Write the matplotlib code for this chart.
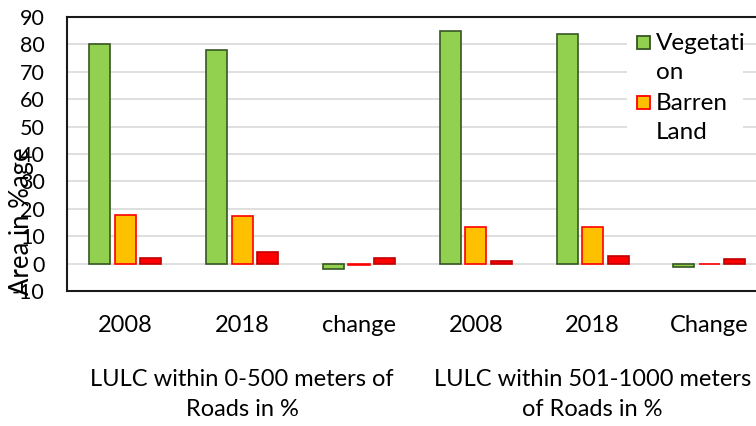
import numpy as np
import matplotlib
matplotlib.use("Agg")
import matplotlib.pyplot as plt
from matplotlib.patches import Rectangle

# data
categories = ["2008", "2018", "change", "2008", "2018", "Change"]
vegetation = [80.1, 78.0, -2.1, 84.9, 83.8, -1.1]
barren = [17.6, 17.2, -0.4, 13.5, 13.2, -0.3]
built_up = [2.2, 4.4, 2.2, 1.1, 2.6, 1.5]
group_labels = ["LULC within 0-500 meters of\nRoads in %",
                "LULC within 501-1000 meters\nof Roads in %"]
legend_labels = ["Vegetati\non", "Barren\nLand"]

plt.rcParams['font.family'] = ['Lato', 'DejaVu Sans']

W, H = 756, 426
fig = plt.figure(figsize=(W / 100, H / 100), dpi=100)

def fx(px):
    return px / W

def fy(py):
    return 1 - py / H

# axes in pixels: left 67, top 17, bottom 291, one category = ~116.8 px
left, top, bottom = 67, 17, 291
width = 116.8 * 6
ax = fig.add_axes([fx(left), fy(bottom), width / W, (bottom - top) / H])

GREEN, GREEN_E = '#92D050', '#375623'
YELLOW, YELLOW_E = '#FFC000', '#FF0000'
RED, RED_E = '#FF0000', '#C00000'

x = np.arange(len(categories))
step = 0.218
bw = 0.18
ax.bar(x - step, vegetation, bw, color=GREEN, edgecolor=GREEN_E, linewidth=1.2, zorder=3)
ax.bar(x, barren, bw, color=YELLOW, edgecolor=YELLOW_E, linewidth=1.2, zorder=3)
ax.bar(x + step, built_up, bw, color=RED, edgecolor=RED_E, linewidth=1.2, zorder=3)

ax.set_xlim(-0.5, 5.5)
ax.set_ylim(-10, 90)
ax.set_yticks(np.arange(-10, 91, 10))
ax.set_yticklabels([f"{v}" for v in range(-10, 91, 10)], fontsize=15.5)
ax.set_xticks(x)
ax.set_xticklabels(categories, fontsize=17)
ax.tick_params(length=0)
ax.tick_params(axis='y', pad=16)
ax.tick_params(axis='x', pad=17.5)
ax.grid(axis='y', color='#D9D9D9', linewidth=1.2, zorder=0)
for s in ax.spines.values():
    s.set_color('#1a1a1a')
    s.set_linewidth(1.5)

# group labels under the ticks
for i, lab in enumerate(group_labels):
    xc = fx(left + 116.8 * (0.5 + 3 * i + 1))
    fig.text(xc, fy(394.5), lab, ha='center', va='center', fontsize=17,
             linespacing=1.55)

# the axis title overlaps the tick labels in the original too
fig.text(fx(22), fy(221), "Area in %age", rotation=90, ha='center', va='center',
         fontsize=18.5)

# legend drawn by hand (markers sit on the first line of wrapped text)
fig.patches.append(Rectangle((fx(627), fy(146)), fx(743) - fx(627), fy(30) - fy(146),
                             transform=fig.transFigure, facecolor='white',
                             edgecolor='none', zorder=4))
fills = [(GREEN, GREEN_E), (YELLOW, YELLOW_E)]
for i, (lab, (fc, ec)) in enumerate(zip(legend_labels, fills)):
    yc = 42 + i * 60
    fig.patches.append(Rectangle((fx(637), fy(yc + 7)), fx(13), 13 / H,
                                 transform=fig.transFigure, facecolor=fc,
                                 edgecolor=ec, linewidth=1.3, zorder=5))
    fig.text(fx(656), fy(yc - 9), lab, ha='left', va='top', fontsize=17.5,
             linespacing=1.47, zorder=6)

fig.savefig("out.png", dpi=100)
